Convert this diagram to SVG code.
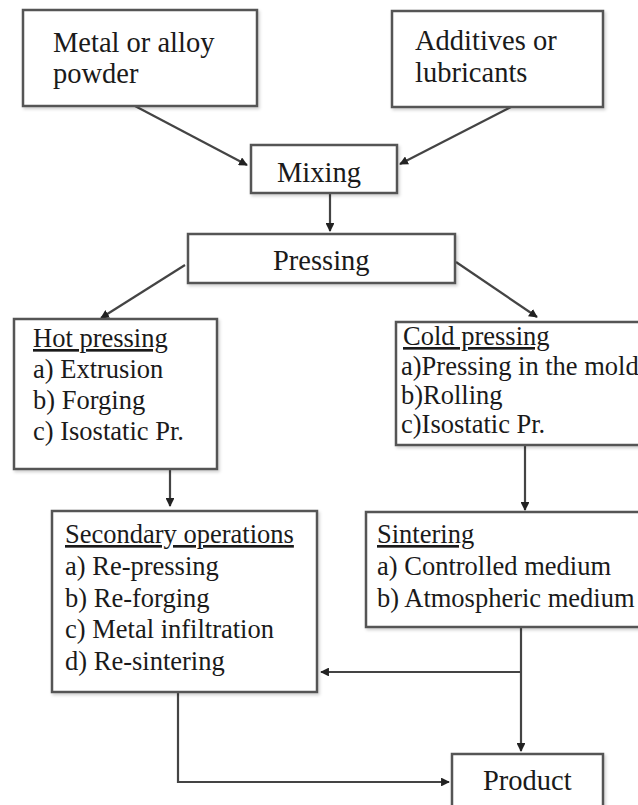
<svg xmlns="http://www.w3.org/2000/svg" width="638" height="805" viewBox="0 0 638 805">
<defs>
<style>
.box{fill:#fff;stroke:#555;stroke-width:2.5;filter:url(#sh)}
.t{font-family:"Liberation Serif","Times New Roman",serif;fill:#1a1a1a}
.big{font-size:28.5px}
.sm{font-size:26.5px}
.u{text-decoration:underline}
.c{fill:none;stroke:#444;stroke-width:2.2}
</style>
<filter id="sh" x="-10%" y="-10%" width="130%" height="130%">
<feDropShadow dx="1.5" dy="2" stdDeviation="1.5" flood-color="#000" flood-opacity="0.18"/>
</filter>
<marker id="ah" viewBox="0 0 10 10" refX="9" refY="5" markerWidth="4" markerHeight="4" orient="auto" markerUnits="strokeWidth">
<path d="M0,0 L10,5 L0,10 z" fill="#222"/>
</marker>
</defs>
<rect width="638" height="805" fill="#fff"/>
<g id="connectors">
<line class="c" x1="135" y1="106" x2="247" y2="165" marker-end="url(#ah)"/>
<line class="c" x1="511" y1="107" x2="400" y2="164" marker-end="url(#ah)"/>
<line class="c" x1="330" y1="193" x2="330" y2="231" marker-end="url(#ah)"/>
<line class="c" x1="185" y1="265" x2="101" y2="318" marker-end="url(#ah)"/>
<line class="c" x1="456" y1="262" x2="537" y2="317" marker-end="url(#ah)"/>
<line class="c" x1="170" y1="470" x2="170" y2="506" marker-end="url(#ah)"/>
<line class="c" x1="525" y1="446" x2="525" y2="510" marker-end="url(#ah)"/>
<line class="c" x1="521" y1="628" x2="521" y2="751" marker-end="url(#ah)"/>
<line class="c" x1="521" y1="672" x2="321" y2="672" marker-end="url(#ah)"/>
<polyline class="c" points="178,693 178,782 449,782" marker-end="url(#ah)"/>
</g>
<g id="metal">
<rect class="box" x="23" y="10" width="234" height="96"/>
<text class="t big" x="53" y="52">Metal or alloy</text>
<text class="t big" x="53" y="83">powder</text>
</g>
<g id="additives">
<rect class="box" x="392" y="11" width="211" height="96"/>
<text class="t big" x="415" y="50">Additives or</text>
<text class="t big" x="415" y="82">lubricants</text>
</g>
<g id="mixing">
<rect class="box" x="251" y="145" width="146" height="48"/>
<text class="t big" x="277" y="182">Mixing</text>
</g>
<g id="pressing">
<rect class="box" x="188" y="234" width="267" height="49"/>
<text class="t big" x="273" y="270">Pressing</text>
</g>
<g id="hot">
<rect class="box" x="14" y="319" width="203" height="150"/>
<text class="t sm u" x="33" y="347">Hot pressing</text>
<text class="t sm" x="33" y="378">a) Extrusion</text>
<text class="t sm" x="33" y="409">b) Forging</text>
<text class="t sm" x="33" y="440">c) Isostatic Pr.</text>
</g>
<g id="cold">
<rect class="box" x="396" y="322" width="250" height="123"/>
<text class="t sm u" x="403" y="345">Cold pressing</text>
<text class="t sm" x="401" y="375">a)Pressing in the mold</text>
<text class="t sm" x="401" y="404">b)Rolling</text>
<text class="t sm" x="401" y="433">c)Isostatic Pr.</text>
</g>
<g id="secondary">
<rect class="box" x="52" y="511" width="265" height="181"/>
<text class="t sm u" x="65" y="543">Secondary operations</text>
<text class="t sm" x="65" y="575">a) Re-pressing</text>
<text class="t sm" x="65" y="607">b) Re-forging</text>
<text class="t sm" x="65" y="638">c) Metal infiltration</text>
<text class="t sm" x="65" y="670">d) Re-sintering</text>
</g>
<g id="sintering">
<rect class="box" x="366" y="512" width="280" height="115"/>
<text class="t sm u" x="377" y="543">Sintering</text>
<text class="t sm" x="377" y="575">a) Controlled medium</text>
<text class="t sm" x="377" y="607">b) Atmospheric medium</text>
</g>
<g id="product">
<rect class="box" x="452" y="754" width="151" height="54"/>
<text class="t big" x="483" y="790">Product</text>
</g>
</svg>
